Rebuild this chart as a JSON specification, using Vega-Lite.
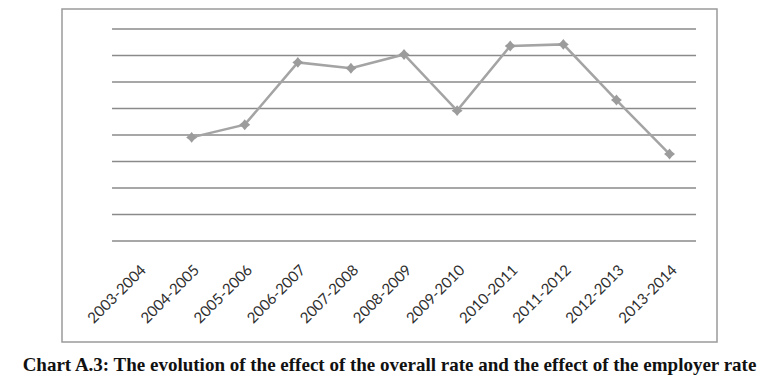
{
  "$schema": "https://vega.github.io/schema/vega-lite/v6.json",
  "autosize": "none",
  "width": 655,
  "height": 333,
  "padding": {"left": 62, "top": 9, "right": 51, "bottom": 42},
  "background": "white",
  "config": {
    "view": {"stroke": "#9a9a9a", "strokeWidth": 1.5}
  },
  "title": {
    "text": "Chart A.3: The evolution of the effect of the overall rate and the effect of the employer rate",
    "orient": "bottom",
    "anchor": "middle",
    "font": "Liberation Serif",
    "fontSize": 19,
    "fontWeight": "bold",
    "color": "#111111",
    "offset": 14,
    "baseline": "top"
  },
  "datasets": {
    "series": [
      {"period": "2003-2004", "value": null},
      {"period": "2004-2005", "value": 3.91},
      {"period": "2005-2006", "value": 4.39},
      {"period": "2006-2007", "value": 6.74},
      {"period": "2007-2008", "value": 6.52},
      {"period": "2008-2009", "value": 7.04},
      {"period": "2009-2010", "value": 4.92},
      {"period": "2010-2011", "value": 7.36},
      {"period": "2011-2012", "value": 7.42},
      {"period": "2012-2013", "value": 5.32},
      {"period": "2013-2014", "value": 3.28}
    ],
    "grid": [
      {"g": 0}, {"g": 1}, {"g": 2}, {"g": 3}, {"g": 4},
      {"g": 5}, {"g": 6}, {"g": 7}, {"g": 8}
    ]
  },
  "layer": [
    {
      "data": {"name": "grid"},
      "mark": {"type": "rule", "color": "#8a8a8a", "strokeWidth": 1.4, "xOffset": -26.5, "x2Offset": 26.5},
      "encoding": {
        "x": {
          "datum": "2003-2004",
          "type": "ordinal",
          "scale": {
            "type": "band",
            "domain": ["2003-2004","2004-2005","2005-2006","2006-2007","2007-2008","2008-2009","2009-2010","2010-2011","2011-2012","2012-2013","2013-2014"],
            "paddingInner": 0,
            "paddingOuter": 0.6676,
            "align": 0.705
          },
          "axis": {
            "title": null,
            "orient": "bottom",
            "offset": -100,
            "labelAngle": -45,
            "labelPadding": 20,
            "ticks": false,
            "domain": false,
            "grid": false,
            "labelFont": "Lato",
            "labelFontSize": 15,
            "labelColor": "#2e2e2e"
          }
        },
        "x2": {"datum": "2013-2014"},
        "y": {
          "field": "g",
          "type": "quantitative",
          "scale": {"domain": [-3.811, 8.755], "nice": false, "zero": false},
          "axis": null
        }
      }
    },
    {
      "data": {"name": "series"},
      "transform": [{"filter": "datum.value != null"}],
      "mark": {"type": "line", "color": "#a4a4a4", "strokeWidth": 2.5},
      "encoding": {
        "x": {"field": "period", "type": "ordinal"},
        "y": {"field": "value", "type": "quantitative"}
      }
    },
    {
      "data": {"name": "series"},
      "transform": [{"filter": "datum.value != null"}],
      "mark": {"type": "point", "shape": "M0,-1L0.45,-0.45L1,0L0.45,0.45L0,1L-0.45,0.45L-1,0L-0.45,-0.45Z", "filled": true, "color": "#9c9c9c", "size": 120, "opacity": 1},
      "encoding": {
        "x": {"field": "period", "type": "ordinal"},
        "y": {"field": "value", "type": "quantitative"}
      }
    }
  ]
}
